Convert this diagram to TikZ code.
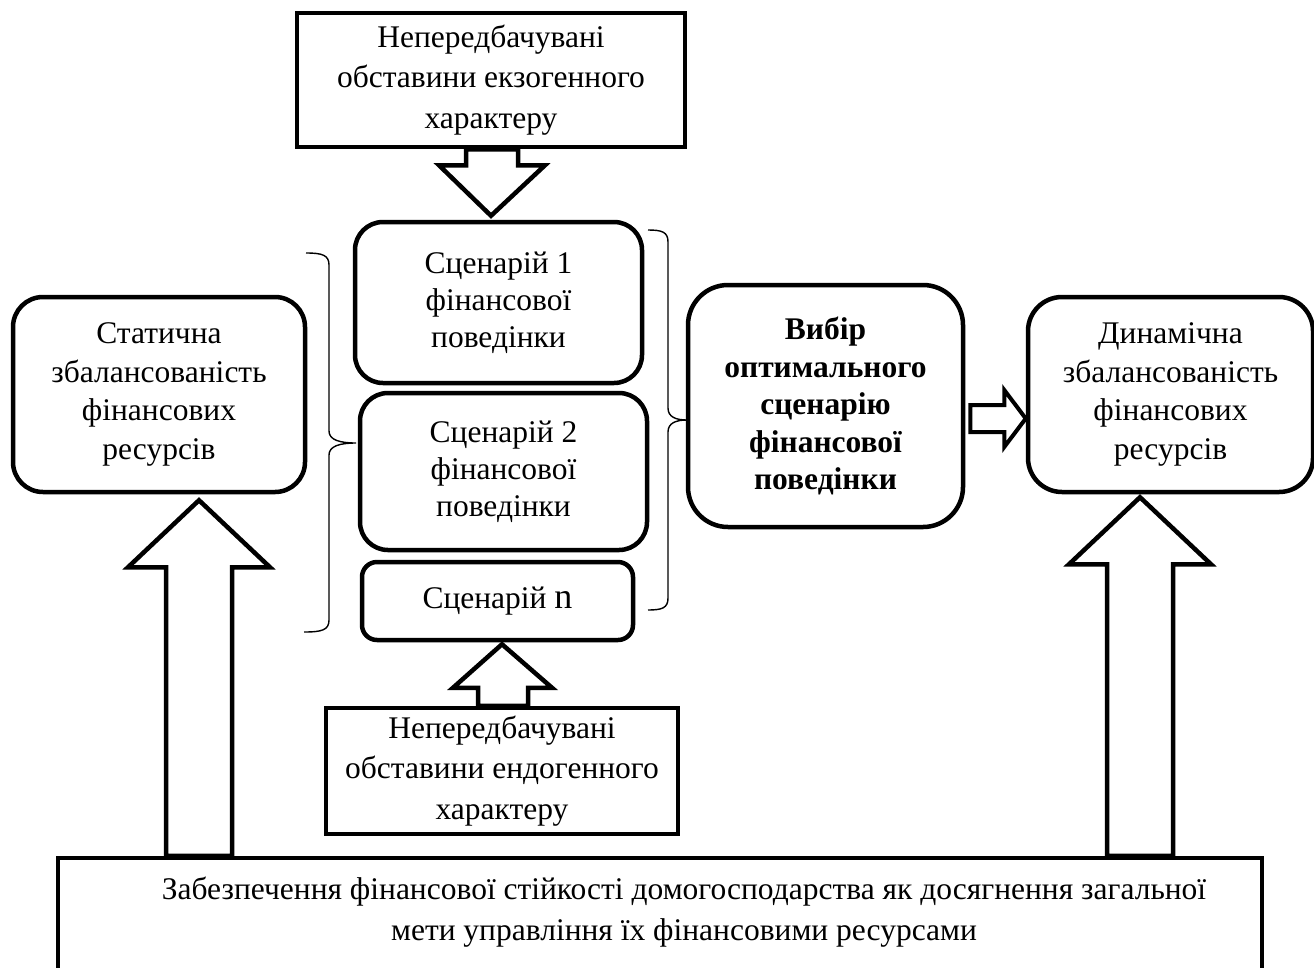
\documentclass[tikz,border=0pt]{standalone}
\usepackage{fontspec}
\setmainfont{Liberation Serif}
\usetikzlibrary{calc}
\begin{document}
\begin{tikzpicture}[x=1pt,y=-1pt,
  box/.style={draw, line width=4.5pt, fill=white, align=center, inner sep=0pt,
    font=\fontsize{31.5}{40.5}\selectfont},
  scenbox/.style={box, rounded corners=28pt, font=\fontsize{31.5}{37}\selectfont},
  sidebox/.style={box, rounded corners=30pt, font=\fontsize{31.5}{38.5}\selectfont},
  blockarrow/.style={draw, line width=4.5pt, fill=white, line join=miter},
  bracepath/.style={draw, line width=1.4pt},
]
\useasboundingbox (0,0) rectangle (1314,967);
\clip (0,0) rectangle (1314,967);

% boxes
\node[box, minimum width=388pt, minimum height=134pt] (exo) at (491,80)
  {Непередбачувані\\обставини екзогенного\\характеру};
\node[scenbox, minimum width=287pt, minimum height=161pt] (scen1) at (498.5,302.5)
  {Сценарій 1\\фінансової\\поведінки};
\node[scenbox, minimum width=287pt, minimum height=157pt] (scen2) at (503.5,471.5)
  {Сценарій 2\\фінансової\\поведінки};
\node[scenbox, rounded corners=15pt, minimum width=271pt, minimum height=78pt] (scenn) at (497.5,601)
  {Сценарій {\fontsize{36}{36}\selectfont n}};
\node[box, minimum width=352pt, minimum height=126pt] (endo) at (502,771)
  {Непередбачувані\\обставини ендогенного\\характеру};
\node[sidebox, minimum width=292pt, minimum height=195pt] (static) at (159,394.5)
  {Статична\\збалансованість\\фінансових\\ресурсів};
\node[sidebox, rounded corners=34pt, minimum width=285pt, minimum height=195pt] (dynamic) at (1170.5,394.5)
  {Динамічна\\збалансованість\\фінансових\\ресурсів};
\node[box, rounded corners=40pt, minimum width=275pt, minimum height=242pt,
  font=\fontsize{31.5}{37.5}\selectfont\bfseries] (choice) at (825.5,406)
  {Вибір\\оптимального\\сценарію\\фінансової\\поведінки};
\node[box, minimum width=1204pt, minimum height=150pt] (goal) at (660,933) {};
\node[align=center, inner sep=0pt, font=\fontsize{31.5}{40.5}\selectfont] (goaltext) at (684,912)
  {Забезпечення фінансової стійкості домогосподарства як досягнення загальної\\мети управління їх фінансовими ресурсами};

% block arrow: exogenous circumstances -> scenarios
\coordinate (t1) at ($(exo.south |- scen1.north)+(0,-4)$);
\draw[blockarrow] ($(exo.south)+(-25,0)$) -- ($(exo.south)+(-25,16)$) -- ($(exo.south)+(-52,16)$)
  -- (t1) -- ($(exo.south)+(54,16)$) -- ($(exo.south)+(27,16)$) -- ($(exo.south)+(27,0)$) -- cycle;

% block arrow: endogenous circumstances -> scenario n
\coordinate (t2) at ($(endo.north |- scenn.south)+(0,2)$);
\draw[blockarrow] ($(endo.north)+(-24,0)$) -- ($(endo.north)+(-24,-18)$) -- ($(endo.north)+(-49,-18)$)
  -- (t2) -- ($(endo.north)+(50,-18)$) -- ($(endo.north)+(26,-18)$) -- ($(endo.north)+(26,0)$) -- cycle;

% block arrow: goal -> static balance
\coordinate (la) at ($(static.south)+(40,6)$);
\coordinate (lb) at (la |- goal.north);
\draw[blockarrow] ($(lb)+(-33,0)$) -- ($(la)+(-33,67)$) -- ($(la)+(-71,67)$) -- (la)
  -- ($(la)+(71,67)$) -- ($(la)+(33,67)$) -- ($(lb)+(33,0)$) -- cycle;

% block arrow: goal -> dynamic balance
\coordinate (da) at ($(dynamic.south)+(-30.5,3)$);
\coordinate (db) at (da |- goal.north);
\draw[blockarrow] ($(db)+(-33,0)$) -- ($(da)+(-33,67)$) -- ($(da)+(-71,67)$) -- (da)
  -- ($(da)+(71,67)$) -- ($(da)+(33,67)$) -- ($(db)+(33,0)$) -- cycle;

% block arrow: choice -> dynamic balance
\coordinate (ra) at ($(choice.east)+(5,12.5)$);
\coordinate (rt) at (dynamic.west |- ra);
\draw[blockarrow, line width=4pt] ($(ra)+(0,-13.5)$) -- ($(ra)+(34,-13.5)$) -- ($(ra)+(34,-28.5)$)
  -- (rt) -- ($(ra)+(34,28.5)$) -- ($(ra)+(34,13.5)$) -- ($(ra)+(0,13.5)$) -- cycle;

% braces grouping the scenarios
\draw[bracepath] (306,253) .. controls (322,253) and (329,255) .. (329,265) -- (329,431)
  .. controls (329,440) and (340,443) .. (356,443)
  .. controls (340,443) and (329,446) .. (329,455) -- (329,620)
  .. controls (329,630) and (322,632) .. (304,632);
\draw[bracepath] (648,230) .. controls (662,230) and (668,232) .. (668,242) -- (668,408)
  .. controls (668,417) and (676,420) .. (687,420)
  .. controls (676,420) and (668,423) .. (668,432) -- (668,598)
  .. controls (668,608) and (662,610) .. (648,610);
\end{tikzpicture}
\end{document}
